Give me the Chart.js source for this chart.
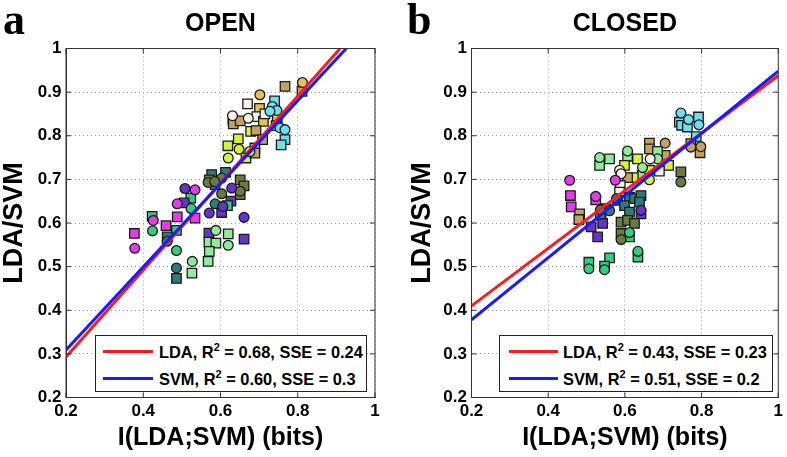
<!DOCTYPE html>
<html><head><meta charset="utf-8">
<script src="https://cdn.jsdelivr.net/npm/chart.js@4.4.1/dist/chart.umd.min.js"></script>
<style>
html,body{margin:0;padding:0;background:#fff;}
body{width:787px;height:457px;position:relative;overflow:hidden;font-family:'Liberation Sans',Arial,sans-serif;}
.panel{position:absolute;top:0;height:457px;}
.letter{position:absolute;top:-2px;font-family:'Liberation Serif','Times New Roman',serif;font-weight:bold;font-size:44px;line-height:44px;color:#000;}
.legend{position:absolute;top:335px;height:57px;background:#fff;border:1px solid #222;box-sizing:border-box;}
.legend .sw{position:absolute;height:3px;}
.legend .tx{position:absolute;font-weight:bold;font-size:16.4px;line-height:20px;white-space:nowrap;color:#000;}
.legend sup{font-size:11px;vertical-align:0;position:relative;top:-7px;}
</style></head><body>
<div class="panel" style="left:0;width:393px;"><canvas id="ca" width="393" height="457"></canvas></div>
<div class="panel" style="left:408px;width:379px;"><canvas id="cb" width="379" height="457"></canvas></div>
<div class="letter" style="left:3px;">a</div>
<div class="letter" style="left:407px;">b</div>
<div class="legend" id="lga" style="left:95px;width:272px;"></div>
<div class="legend" id="lgb" style="left:499px;width:274px;"></div>
<script>
// ---- data ----
const panelTitles = ['OPEN', 'CLOSED'];
const xAxisTitle = 'I(LDA;SVM) (bits)';
const yAxisTitle = 'LDA/SVM';
const xTickValues = [0.2, 0.4, 0.6, 0.8, 1.0];
const xTickLabels = ['0.2', '0.4', '0.6', '0.8', '1'];
const yTickValues = [0.2, 0.3, 0.4, 0.5, 0.6, 0.7, 0.8, 0.9, 1.0];
const yTickLabels = ['0.2', '0.3', '0.4', '0.5', '0.6', '0.7', '0.8', '0.9', '1'];
const fitNames = ['LDA', 'SVM'];
const fitX = [0.2, 1.0];
const openLdaFit = [0.293, 1.090];
const openSvmFit = [0.309, 1.071];
const closedLdaFit = [0.410, 0.938];
const closedSvmFit = [0.378, 0.948];
const openR2 = ['0.68', '0.60'];
const openSSE = ['0.24', '0.3'];
const closedR2 = ['0.43', '0.51'];
const closedSSE = ['0.23', '0.2'];

const openX = [0.767,0.812,0.811,0.702,0.670,0.701,0.631,0.632,0.633,0.651,0.672,0.694,0.711,0.715,0.740,0.734,0.746,0.728,0.747,0.744,0.754,0.767,0.767,0.757,0.678,0.692,0.646,0.619,0.648,0.620,0.709,0.689,0.676,0.666,0.689,
 0.577,0.571,0.568,0.586,0.603,0.613,0.585,0.651,0.661,0.651,0.651,0.629,0.603,0.627,0.586,0.618,0.606,0.603,0.571,0.661,
 0.508,0.534,0.523,0.488,0.506,0.524,0.488,0.534,0.423,0.426,0.424,0.459,0.486,0.462,0.462,0.377,0.378,0.486,0.527,0.486,0.526,0.486,
 0.570,0.588,0.620,0.570,0.588,0.620,0.571,0.568,0.661];
const openY = [0.913,0.922,0.902,0.894,0.873,0.863,0.846,0.837,0.827,0.834,0.840,0.844,0.833,0.850,0.880,0.867,0.858,0.856,0.842,0.823,0.818,0.814,0.791,0.779,0.810,0.812,0.793,0.777,0.769,0.749,0.791,0.772,0.764,0.749,0.760,
 0.711,0.699,0.693,0.688,0.703,0.716,0.695,0.699,0.685,0.673,0.665,0.680,0.667,0.650,0.644,0.640,0.638,0.624,0.623,0.613,
 0.679,0.676,0.657,0.644,0.646,0.633,0.614,0.611,0.615,0.606,0.582,0.594,0.583,0.568,0.558,0.576,0.542,0.537,0.512,0.497,0.485,0.473,
 0.577,0.583,0.575,0.556,0.554,0.549,0.535,0.512,0.563];
const openGroup = ['tan','gold','tan','gold','wht','gold','wht','wht','tan','tan','wht','wht','gold','wht','cyan','cyan','cyan','cyan','gold','cyan','cyan','cyan','cyan','cyan','yel','tan','yel','yel','yel','yel','tan','tan','yel','yel','tan',
 'teal','olv','olv','teal','olv','teal','olv','olv','olv','olv','olv','pur','olv','pur','teal','grn','pur','pur','pur','pur',
 'pur','mag','grn','mag','pur','grn','mag','mag','grn','mag','grn','mag','grn','teal','teal','mag','mag','grn','lgrn','teal','lgrn','teal',
 'pur','lgrn','lgrn','lgrn','lgrn','lgrn','lgrn','lgrn','pur'];
const openShape = ['s','c','s','c','s','s','c','s','s','s','c','s','s','s','s','c','c','c','s','s','c','c','s','s','s','s','s','s','c','c','s','s','c','s','s',
 's','s','c','s','c','s','c','s','s','c','s','c','c','s','c','s','c','s','c','c',
 'c','c','s','c','s','c','s','s','s','c','c','s','s','s','c','s','c','c','c','c','s','s',
 's','c','s','s','s','c','s','s','s'];

const closedX = [0.746,0.742,0.748,0.766,0.763,0.792,0.793,0.786,0.772,0.772,0.798,0.796,0.664,0.664,0.705,0.705,0.685,0.685,0.666,0.633,
 0.607,0.607,0.714,0.690,0.646,0.645,0.664,0.664,0.622,0.599,0.746,0.746,0.607,0.534,0.534,0.560,0.586,0.590,0.588,0.586,
 0.456,0.458,0.460,0.482,0.480,0.575,0.581,0.578,0.551,0.538,0.612,0.625,0.642,0.638,0.599,0.612,0.560,0.512,0.542,0.529,
 0.642,0.642,0.590,0.607,0.625,0.590,0.590,0.536,0.536,0.612,0.612,0.524,0.524,0.506,0.506,0.560,0.547,0.547,0.634,0.634];
const closedY = [0.852,0.831,0.824,0.837,0.820,0.843,0.825,0.798,0.782,0.774,0.775,0.761,0.783,0.770,0.783,0.755,0.764,0.747,0.747,0.747,
 0.765,0.753,0.732,0.719,0.727,0.709,0.699,0.721,0.704,0.732,0.717,0.694,0.704,0.750,0.732,0.747,0.721,0.713,0.686,0.671,
 0.698,0.663,0.637,0.621,0.608,0.698,0.652,0.656,0.633,0.618,0.659,0.656,0.663,0.648,0.640,0.625,0.628,0.591,0.599,0.568,
 0.621,0.629,0.602,0.606,0.599,0.576,0.562,0.621,0.630,0.568,0.578,0.661,0.653,0.510,0.495,0.520,0.493,0.501,0.535,0.522];
const closedGroup = ['cyan','cyan','cyan','cyan','cyan','cyan','cyan','cyan','tan','tan','tan','tan','tan','tan','tan','tan','lgrn','lgrn','wht','yel',
 'lgrn','lgrn','yel','wht','lgrn','lgrn','yel','yel','yel','yel','olv','olv','tan','lgrn','lgrn','lgrn','wht','wht','wht','wht',
 'mag','mag','mag','tan','tan','mag','teal','teal','teal','teal','teal','teal','teal','teal','teal','teal','teal','pur','pur','pur',
 'pur','pur','olv','olv','olv','olv','olv','olv','olv','grn','grn','mag','mag','grn','grn','grn','grn','grn','grn','grn'];
const closedShape = ['c','s','s','c','s','s','c','s','s','c','c','s','s','s','c','s','s','c','c','s',
 'c','s','s','s','c','s','c','s','s','s','s','c','s','c','s','s','c','c','s','s',
 'c','s','s','s','s','c','s','c','s','s','s','s','s','s','s','s','c','s','s','s',
 's','c','s','s','s','s','c','s','c','s','c','c','s','s','c','s','c','s','c','s'];

// ---- styles ----
const groupColors = {mag:'#e23ee6', pur:'#6634c8', teal:'#2e7b78', grn:'#36cc80', lgrn:'#90ec9c', olv:'#6a7a44',
  yel:'#d6f23c', tan:'#c2a262', gold:'#e2c05c', wht:'#f3f1ea', cyan:'#6ce0ee'};
const FONT = "'Liberation Sans', Arial, sans-serif";
const RED = '#ff1a1a', BLUE = '#1a1aff';

function pointsFor(xs, ys, gs, ss, shape) {
  const pts = [], cols = [];
  xs.forEach((x, i) => { if (ss[i] === shape) { pts.push({x: x, y: ys[i]}); cols.push(groupColors[gs[i]]); } });
  return {pts, cols};
}

const boxPlugin = {
  id: 'boxTicks',
  afterDatasetsDraw(chart) {
    const {ctx, chartArea: a} = chart;
    const x = chart.scales.x, y = chart.scales.y;
    ctx.save();
    ctx.setLineDash([]);
    ctx.strokeStyle = '#333';
    ctx.lineWidth = 1;
    ctx.strokeRect(a.left, a.top, a.right - a.left, a.bottom - a.top);
    ctx.beginPath();
    xTickValues.forEach(v => { const p = x.getPixelForValue(v);
      ctx.moveTo(p, a.bottom); ctx.lineTo(p, a.bottom - 5); ctx.moveTo(p, a.top); ctx.lineTo(p, a.top + 5); });
    yTickValues.forEach(v => { const p = y.getPixelForValue(v);
      ctx.moveTo(a.left, p); ctx.lineTo(a.left + 5, p); ctx.moveTo(a.right, p); ctx.lineTo(a.right - 5, p); });
    ctx.stroke();
    ctx.restore();
  }
};

function makeChart(id, title, xs, ys, gs, ss, lda, svm, yWidth, padRight) {
  const sq = pointsFor(xs, ys, gs, ss, 's');
  const ci = pointsFor(xs, ys, gs, ss, 'c');
  return new Chart(document.getElementById(id), {
    type: 'scatter',
    data: { datasets: [
      {type:'line', label: fitNames[1], data: fitX.map((x, i) => ({x: x, y: svm[i]})), borderColor: BLUE, borderWidth: 3, pointRadius: 0, fill: false, tension: 0},
      {type:'line', label: fitNames[0], data: fitX.map((x, i) => ({x: x, y: lda[i]})), borderColor: RED, borderWidth: 3, pointRadius: 0, fill: false, tension: 0},
      {label: 'circles', data: ci.pts, pointStyle: 'circle', pointRadius: 4.9, backgroundColor: ci.cols, borderColor: '#1a1a1a', borderWidth: 1.3},
      {label: 'squares', data: sq.pts, pointStyle: 'rect', pointRadius: 6.7, backgroundColor: sq.cols, borderColor: '#1a1a1a', borderWidth: 1.3}
    ]},
    options: {
      responsive: false, animation: false, events: [],
      layout: { padding: {left: 0, right: padRight, top: 0, bottom: 0} },
      plugins: {
        legend: {display: false}, tooltip: {enabled: false},
        title: {display: true, text: title, fullSize: false, color: '#000',
          font: {family: FONT, size: 25, weight: 'bold', lineHeight: 1.2}, padding: {top: 9.2, bottom: 9.3}}
      },
      scales: {
        x: {
          type: 'linear', min: 0.2, max: 1,
          afterBuildTicks: s => { s.ticks = xTickValues.map(v => ({value: v})); },
          afterFit: s => { s.height = 59.5; },
          ticks: {callback: (v, i) => xTickLabels[i], color: '#000', padding: 4, maxRotation: 0, autoSkip: false,
            font: {family: FONT, size: 17, weight: 'bold'}},
          grid: {color: '#a0a0a0', lineWidth: 1, drawTicks: false},
          border: {display: true, color: '#333', width: 1, dash: [1, 3]},
          title: {display: true, text: xAxisTitle, color: '#000', font: {family: FONT, size: 25, weight: 'bold', lineHeight: 1.2}, padding: {top: 0, bottom: 4}}
        },
        y: {
          type: 'linear', min: 0.2, max: 1,
          afterBuildTicks: s => { s.ticks = yTickValues.map(v => ({value: v})); },
          afterFit: s => { s.width = yWidth; },
          ticks: {callback: (v, i) => yTickLabels[i], color: '#000', padding: 4.5, autoSkip: false,
            font: {family: FONT, size: 17, weight: 'bold'}},
          grid: {color: '#a0a0a0', lineWidth: 1, drawTicks: false},
          border: {display: true, color: '#333', width: 1, dash: [1, 3]},
          title: {display: true, text: yAxisTitle, color: '#000', font: {family: FONT, size: 27, weight: 'bold', lineHeight: 1}, padding: {top: 1, bottom: 0}}
        }
      }
    },
    plugins: [boxPlugin]
  });
}

makeChart('ca', panelTitles[0], openX, openY, openGroup, openShape, openLdaFit, openSvmFit, 66, 18);
makeChart('cb', panelTitles[1], closedX, closedY, closedGroup, closedShape, closedLdaFit, closedSvmFit, 63.5, 7.5);

function buildLegend(id, r2, sse, lineLeft, lineW, textLeft) {
  const el = document.getElementById(id);
  const colors = [RED, BLUE];
  const rows = [{line: 13.5, text: 6}, {line: 40.5, text: 33}];
  fitNames.forEach((n, i) => {
    const sw = document.createElement('div');
    sw.className = 'sw';
    sw.style.cssText = 'left:' + lineLeft + 'px;top:' + rows[i].line + 'px;width:' + lineW + 'px;background:' + colors[i] + ';';
    el.appendChild(sw);
    const tx = document.createElement('div');
    tx.className = 'tx';
    tx.style.cssText = 'left:' + textLeft + 'px;top:' + rows[i].text + 'px;';
    tx.innerHTML = n + ', R<sup>2</sup> = ' + r2[i] + ', SSE = ' + sse[i];
    el.appendChild(tx);
  });
}
buildLegend('lga', openR2, openSSE, 7, 50, 63);
buildLegend('lgb', closedR2, closedSSE, 9, 49, 63);
</script>
</body></html>
